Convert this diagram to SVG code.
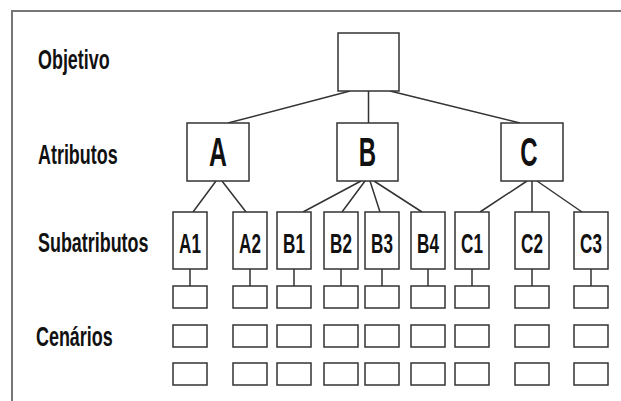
<svg xmlns="http://www.w3.org/2000/svg" width="621" height="401" viewBox="0 0 621 401">
<style>
.bx{fill:#fff;stroke:#333;stroke-width:1.5}
.ln{stroke:#333;stroke-width:1.5;fill:none}
.fr{stroke:#777;stroke-width:2;fill:none}
text{font-family:"Liberation Sans",Arial,sans-serif;font-weight:bold;fill:#111}
.lb{font-size:28px}
.big{font-size:40px;text-anchor:middle}
.sm{font-size:28px;text-anchor:middle}
</style>
<rect width="621" height="401" fill="#fff"/>
<path class="fr" d="M12,401 V11 H621"/>
<g id="labels">
<text class="lb" transform="translate(38,69) scale(0.64,1)">Objetivo</text>
<text class="lb" transform="translate(38,164) scale(0.64,1)">Atributos</text>
<text class="lb" transform="translate(38,252) scale(0.64,1)">Subatributos</text>
<text class="lb" transform="translate(36,346) scale(0.64,1)">Cenários</text>
</g>
<g id="connectors">
<path class="ln" d="M350,91 L228,123 M368.5,91 V123 M390,91 L520,123"/>
<path class="ln" d="M216,181 L193,212 M222,181 L246,212"/>
<path class="ln" d="M361,181 L303,212 M365,181 L342,212 M370,181 L380,212 M374,181 L422,212"/>
<path class="ln" d="M527,181 L480,212 M532,181 V212 M537,181 L582,212"/>
<path class="ln" d="M190,269 V286 M250,269 V286 M294,269 V286 M341,269 V286 M382,269 V286 M428,269 V286 M472,269 V286 M532,269 V286 M591,269 V286"/>
</g>
<g id="objetivo"><rect class="bx" x="338" y="33" width="61" height="58"/></g>
<g id="attr-A"><rect class="bx" x="187" y="123" width="62" height="58"/><text class="big" transform="translate(218,166) scale(0.62,1)">A</text></g>
<g id="attr-B"><rect class="bx" x="337" y="123" width="61" height="58"/><text class="big" transform="translate(367.5,166) scale(0.6,1)">B</text></g>
<g id="attr-C"><rect class="bx" x="501" y="123" width="62" height="58"/><text class="big" transform="translate(529,166) scale(0.6,1)">C</text></g>
<g id="sub-A1"><rect class="bx" x="173" y="212" width="34" height="57"/><text class="sm" transform="translate(190,253) scale(0.61,1)">A1</text></g>
<g id="sub-A2"><rect class="bx" x="233" y="212" width="34" height="57"/><text class="sm" transform="translate(250,253) scale(0.61,1)">A2</text></g>
<g id="sub-B1"><rect class="bx" x="277" y="212" width="34" height="57"/><text class="sm" transform="translate(294,253) scale(0.61,1)">B1</text></g>
<g id="sub-B2"><rect class="bx" x="324" y="212" width="34" height="57"/><text class="sm" transform="translate(341,253) scale(0.61,1)">B2</text></g>
<g id="sub-B3"><rect class="bx" x="365" y="212" width="34" height="57"/><text class="sm" transform="translate(382,253) scale(0.61,1)">B3</text></g>
<g id="sub-B4"><rect class="bx" x="411" y="212" width="34" height="57"/><text class="sm" transform="translate(428,253) scale(0.61,1)">B4</text></g>
<g id="sub-C1"><rect class="bx" x="455" y="212" width="34" height="57"/><text class="sm" transform="translate(472,253) scale(0.61,1)">C1</text></g>
<g id="sub-C2"><rect class="bx" x="515" y="212" width="34" height="57"/><text class="sm" transform="translate(532,253) scale(0.61,1)">C2</text></g>
<g id="sub-C3"><rect class="bx" x="574" y="212" width="34" height="57"/><text class="sm" transform="translate(591,253) scale(0.61,1)">C3</text></g>
<g id="cenarios">
<g id="cen-A1"><rect class="bx" x="173" y="286" width="34" height="22"/><rect class="bx" x="173" y="325" width="34" height="22"/><rect class="bx" x="173" y="363" width="34" height="22"/></g>
<g id="cen-A2"><rect class="bx" x="233" y="286" width="34" height="22"/><rect class="bx" x="233" y="325" width="34" height="22"/><rect class="bx" x="233" y="363" width="34" height="22"/></g>
<g id="cen-B1"><rect class="bx" x="277" y="286" width="34" height="22"/><rect class="bx" x="277" y="325" width="34" height="22"/><rect class="bx" x="277" y="363" width="34" height="22"/></g>
<g id="cen-B2"><rect class="bx" x="324" y="286" width="34" height="22"/><rect class="bx" x="324" y="325" width="34" height="22"/><rect class="bx" x="324" y="363" width="34" height="22"/></g>
<g id="cen-B3"><rect class="bx" x="365" y="286" width="34" height="22"/><rect class="bx" x="365" y="325" width="34" height="22"/><rect class="bx" x="365" y="363" width="34" height="22"/></g>
<g id="cen-B4"><rect class="bx" x="411" y="286" width="34" height="22"/><rect class="bx" x="411" y="325" width="34" height="22"/><rect class="bx" x="411" y="363" width="34" height="22"/></g>
<g id="cen-C1"><rect class="bx" x="455" y="286" width="34" height="22"/><rect class="bx" x="455" y="325" width="34" height="22"/><rect class="bx" x="455" y="363" width="34" height="22"/></g>
<g id="cen-C2"><rect class="bx" x="515" y="286" width="34" height="22"/><rect class="bx" x="515" y="325" width="34" height="22"/><rect class="bx" x="515" y="363" width="34" height="22"/></g>
<g id="cen-C3"><rect class="bx" x="574" y="286" width="34" height="22"/><rect class="bx" x="574" y="325" width="34" height="22"/><rect class="bx" x="574" y="363" width="34" height="22"/></g>
</g>
</svg>
